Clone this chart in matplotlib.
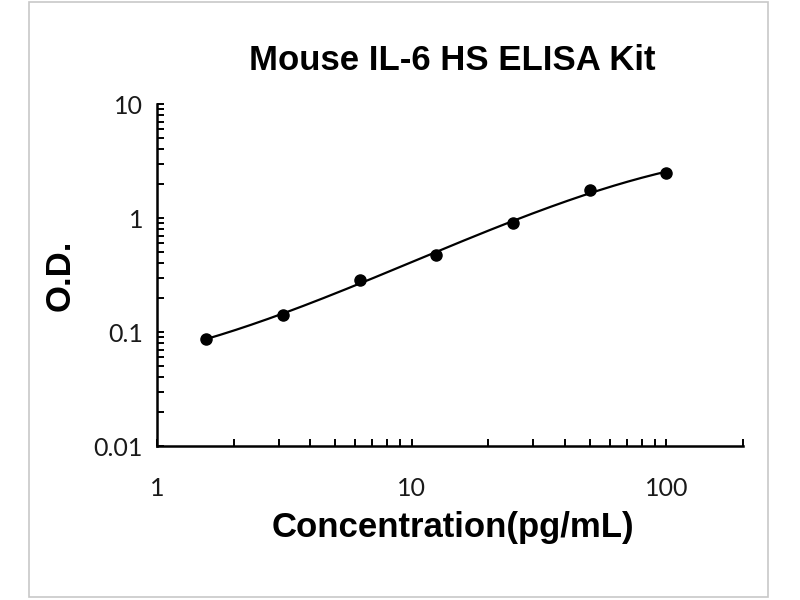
import numpy as np
import matplotlib
matplotlib.use("Agg")
import matplotlib.pyplot as plt
from matplotlib.patches import Rectangle
from matplotlib.ticker import LogLocator, FixedLocator, FixedFormatter, NullFormatter

concentration = [1.5625, 3.125, 6.25, 12.5, 25, 50, 100]
od = [0.087, 0.141, 0.288, 0.477, 0.91, 1.75, 2.50]

x_ticks = [1, 10, 100]
x_tick_labels = ["1", "10", "100"]
y_ticks = [0.01, 0.1, 1, 10]
y_tick_labels = ["0.01", "0.1", "1", "10"]

title = "Mouse IL-6 HS ELISA Kit"
xlabel = "Concentration(pg/mL)"
ylabel = "O.D."

fig = plt.figure(figsize=(8, 6), dpi=100)
fig.patch.set_facecolor("white")
fig.patches.append(Rectangle((29/800, 1-597/600), (768-29)/800, (597-2)/600,
                             transform=fig.transFigure, fill=False,
                             edgecolor="#c8c8c8", linewidth=1.2))

ax = fig.add_axes([157/800, 1-446/600, (743-157)/800, (446-104)/600])

# smooth fitted curve (cubic in log-log space)
lx = np.log10(concentration)
ly = np.log10(od)
coef = np.polyfit(lx, ly, 3)
xs = np.linspace(lx[0], lx[-1], 300)
ax.plot(10**xs, 10**np.polyval(coef, xs), color="black", linewidth=1.6, zorder=2)
ax.plot(concentration, od, "o", color="black", markersize=8, zorder=3)

ax.set_xscale("log")
ax.set_yscale("log")
ax.set_xlim(1, 200)
ax.set_ylim(0.01, 10)

for s in ["top", "right"]:
    ax.spines[s].set_visible(False)
for s in ["left", "bottom"]:
    ax.spines[s].set_linewidth(1.8)
    ax.spines[s].set_color("black")

ax.xaxis.set_major_locator(FixedLocator(x_ticks + [200]))
ax.xaxis.set_major_formatter(FixedFormatter(x_tick_labels + [""]))
ax.xaxis.set_minor_locator(LogLocator(base=10, subs=np.arange(2, 10), numticks=20))
ax.xaxis.set_minor_formatter(NullFormatter())
ax.yaxis.set_major_locator(FixedLocator(y_ticks))
ax.yaxis.set_major_formatter(FixedFormatter(y_tick_labels))
ax.yaxis.set_minor_locator(LogLocator(base=10, subs=np.arange(2, 10), numticks=20))
ax.yaxis.set_minor_formatter(NullFormatter())

ax.tick_params(which="both", direction="in", length=5, width=1.4, color="black")
ax.tick_params(axis="x", which="major", pad=22)
ax.tick_params(axis="y", which="major", pad=10)
for lab in ax.get_xticklabels() + ax.get_yticklabels():
    lab.set_fontfamily(["Lato", "DejaVu Sans"])
    lab.set_fontsize(18)
    lab.set_color("#1a1a1a")

fig.text(452/800, 1-60/600, title, ha="center", va="center",
         fontsize=25, fontweight="bold", family=["Liberation Sans", "DejaVu Sans"])
fig.text(453/800, 1-528/600, xlabel, ha="center", va="center",
         fontsize=25, fontweight="bold", family=["Liberation Sans", "DejaVu Sans"])
fig.text(60/800, 1-275/600, ylabel, ha="center", va="center", rotation=90,
         fontsize=25, fontweight="bold", family=["Liberation Sans", "DejaVu Sans"])

fig.savefig("out.png", dpi=100, facecolor="white")
